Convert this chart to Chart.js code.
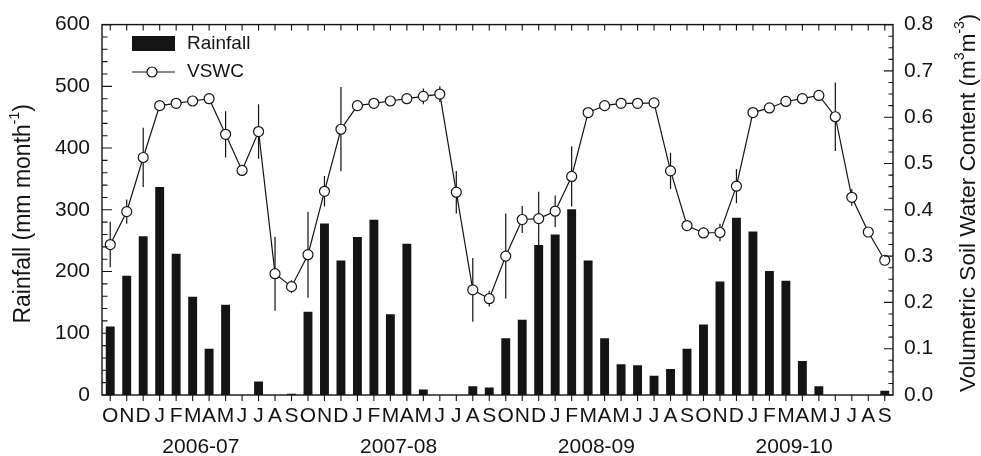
<!DOCTYPE html>
<html>
<head>
<meta charset="utf-8">
<script src="https://cdn.jsdelivr.net/npm/chart.js@4.4.1/dist/chart.umd.min.js"></script>
<style>
    html, body { margin: 0; padding: 0; background: #fff; }
    #wrap { width: 981px; height: 456px; position: relative; }
</style>
</head>
<body>
<div id="wrap"><canvas id="chart"></canvas></div>
<script>
// ===== data =====
const monthLetters = ['O', 'N', 'D', 'J', 'F', 'M', 'A', 'M', 'J', 'J', 'A', 'S'];
const seasons = ['2006-07', '2007-08', '2008-09', '2009-10'];

// monthly rainfall (mm month-1), Oct 2006 .. Sep 2010
const rainfall = [
    111, 193, 257, 337, 229, 159, 75, 146, 0, 22, 0, 2,
    135, 278, 218, 256, 284, 131, 245, 9, 0, 0, 14, 12,
    92, 122, 243, 260, 301, 218, 92, 50, 48, 31, 42, 75,
    114, 184, 287, 265, 201, 185, 55, 14, 0, 0, 0, 7
];

// volumetric soil water content (m3 m-3) and its error
const vswc = [
    0.325, 0.396, 0.513, 0.625, 0.630, 0.635, 0.640, 0.563, 0.485, 0.569, 0.262, 0.234,
    0.303, 0.440, 0.574, 0.625, 0.630, 0.635, 0.640, 0.645, 0.650, 0.438, 0.227, 0.208,
    0.300, 0.379, 0.381, 0.397, 0.472, 0.610, 0.625, 0.630, 0.630, 0.631, 0.484, 0.366,
    0.350, 0.351, 0.451, 0.610, 0.620, 0.634, 0.640, 0.647, 0.601, 0.427, 0.352, 0.291
];
const vswcErr = [
    0.049, 0.026, 0.064, 0.005, 0.008, 0.006, 0.006, 0.050, 0.012, 0.059, 0.080, 0.014,
    0.093, 0.033, 0.091, 0.005, 0.006, 0.006, 0.008, 0.017, 0.017, 0.046, 0.069, 0.017,
    0.092, 0.029, 0.058, 0.034, 0.065, 0.006, 0.005, 0.005, 0.005, 0.005, 0.039, 0.008,
    0.006, 0.019, 0.037, 0.006, 0.006, 0.006, 0.006, 0.008, 0.074, 0.018, 0.010, 0.008
];

const labels = seasons.flatMap(() => monthLetters);

const FONT = "'Liberation Sans', Arial, sans-serif";
const INK = '#141414';

// ===== error bars (drawn under the circles) =====
const errorBars = {
    id: 'errorBars',
    beforeDatasetDraw(chart, args) {
        if (args.index !== 1) return;
        const { ctx, scales } = chart;
        ctx.save();
        ctx.strokeStyle = INK;
        ctx.lineWidth = 1.2;
        ctx.beginPath();
        vswc.forEach((v, i) => {
            const x = scales.x.getPixelForValue(i);
            ctx.moveTo(x, scales.y1.getPixelForValue(v - vswcErr[i]));
            ctx.lineTo(x, scales.y1.getPixelForValue(v + vswcErr[i]));
        });
        ctx.stroke();
        ctx.restore();
    }
};

// ===== frame + tick marks =====
const frame = {
    id: 'frame',
    afterDatasetsDraw(chart) {
        const { ctx, chartArea: a, scales } = chart;
        ctx.save();
        ctx.strokeStyle = INK;
        ctx.lineWidth = 1.4;
        ctx.strokeRect(a.left, a.top, a.right - a.left, a.bottom - a.top);
        ctx.lineWidth = 1.1;
        ctx.beginPath();
        labels.forEach((_, i) => {
            const x = scales.x.getPixelForValue(i);
            ctx.moveTo(x, a.bottom); ctx.lineTo(x, a.bottom + 6);
            ctx.moveTo(x, a.top); ctx.lineTo(x, a.top + 6);
        });
        for (let v = 0; v <= 600; v += 20) {
            const y = scales.y.getPixelForValue(v);
            const len = v % 100 === 0 ? 10 : 5.5;
            ctx.moveTo(a.left, y); ctx.lineTo(a.left + len, y);
        }
        for (let k = 0; k <= 32; k++) {
            const y = scales.y1.getPixelForValue(k * 0.025);
            const len = k % 4 === 0 ? 9 : 4.5;
            ctx.moveTo(a.right, y); ctx.lineTo(a.right - len, y);
        }
        ctx.stroke();
        ctx.restore();
    }
};

// text with superscripts, rotated -90deg, centred on (cx, cy)
function drawRotated(ctx, parts, cx, cy, size) {
    const supSize = Math.round(size * 0.62);
    let w = 0;
    parts.forEach(p => {
        ctx.font = `${p.sup ? supSize : size}px ${FONT}`;
        w += ctx.measureText(p.t).width;
    });
    ctx.save();
    ctx.translate(cx, cy);
    ctx.rotate(-Math.PI / 2);
    ctx.textAlign = 'left';
    ctx.textBaseline = 'middle';
    let x = -w / 2;
    parts.forEach(p => {
        ctx.font = `${p.sup ? supSize : size}px ${FONT}`;
        ctx.fillText(p.t, x, p.sup ? -size * 0.38 : 0);
        x += ctx.measureText(p.t).width;
    });
    ctx.restore();
}

// ===== titles, season labels, legend =====
const decorations = {
    id: 'decorations',
    afterDraw(chart) {
        const { ctx, chartArea: a, scales } = chart;
        const midY = (a.top + a.bottom) / 2;
        ctx.save();
        ctx.fillStyle = INK;

        drawRotated(ctx, [{ t: 'Rainfall (mm month' }, { t: '-1', sup: true }, { t: ')' }], 24, midY + 4, 23);
        drawRotated(ctx, [
            { t: 'Volumetric Soil Water Content (m' }, { t: '3', sup: true },
            { t: 'm' }, { t: '-3', sup: true }, { t: ')' }
        ], 969, midY - 7, 22.5);

        ctx.font = `21px ${FONT}`;
        ctx.textAlign = 'center';
        ctx.textBaseline = 'middle';
        seasons.forEach((s, k) => {
            const x = (scales.x.getPixelForValue(k * 12 + 5) + scales.x.getPixelForValue(k * 12 + 6)) / 2;
            ctx.fillText(s, x, 447);
        });

        // legend
        ctx.fillRect(132, 36, 43, 15);
        ctx.strokeStyle = INK;
        ctx.lineWidth = 1.2;
        ctx.beginPath();
        ctx.moveTo(132, 72); ctx.lineTo(175, 72);
        ctx.stroke();
        ctx.beginPath();
        ctx.arc(152, 72, 5, 0, Math.PI * 2);
        ctx.fillStyle = '#fff';
        ctx.fill();
        ctx.stroke();
        ctx.fillStyle = INK;
        ctx.font = `19px ${FONT}`;
        ctx.textAlign = 'left';
        ctx.fillText('Rainfall', 187, 44);
        ctx.fillText('VSWC', 187, 72);
        ctx.restore();
    }
};

new Chart(document.getElementById('chart'), {
    data: {
        labels,
        datasets: [
            {
                type: 'bar',
                data: rainfall,
                yAxisID: 'y',
                backgroundColor: INK,
                barPercentage: 0.54,
                categoryPercentage: 1,
                order: 2
            },
            {
                type: 'line',
                data: vswc,
                yAxisID: 'y1',
                borderColor: INK,
                borderWidth: 1.2,
                pointRadius: 5,
                pointBackgroundColor: '#fff',
                pointBorderColor: INK,
                pointBorderWidth: 1.2,
                tension: 0,
                order: 1
            }
        ]
    },
    options: {
        responsive: true,
        maintainAspectRatio: false,
        animation: false,
        layout: { padding: { top: 20, left: 0, right: 0, bottom: 0 } },
        plugins: { legend: { display: false }, tooltip: { enabled: false } },
        scales: {
            x: {
                type: 'category',
                offset: true,
                grid: { display: false, drawTicks: false },
                border: { display: false },
                ticks: {
                    autoSkip: false, maxRotation: 0, minRotation: 0, padding: 9,
                    color: INK, font: { family: FONT, size: 21 }
                },
                afterFit: s => { s.height = 61; }
            },
            y: {
                position: 'left',
                min: 0, max: 600,
                grid: { display: false, drawTicks: false },
                border: { display: false },
                ticks: { stepSize: 100, padding: 12, color: INK, font: { family: FONT, size: 21 } },
                afterFit: s => { s.width = 102; }
            },
            y1: {
                position: 'right',
                min: 0, max: 0.8,
                grid: { display: false, drawTicks: false },
                border: { display: false },
                ticks: {
                    stepSize: 0.1, padding: 11, color: INK, font: { family: FONT, size: 21 },
                    callback: v => v.toFixed(1)
                },
                afterFit: s => { s.width = 88; }
            }
        }
    },
    plugins: [errorBars, frame, decorations]
});
</script>
</body>
</html>
